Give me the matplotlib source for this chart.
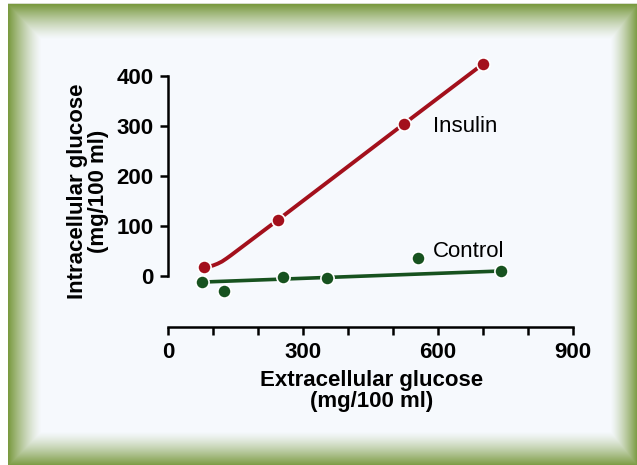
import numpy as np
import matplotlib.pyplot as plt
from matplotlib.ticker import MultipleLocator

# data
insulin_x = [80, 244, 524, 700]
insulin_y = [18, 112, 304, 424]
# smooth insulin curve
insulin_curve_x = [80, 90, 100, 110, 120, 130, 140, 244, 524, 700]
insulin_curve_y = [18, 19, 21, 24.5, 29, 35, 41.5, 112, 304, 424]

control_x = [76, 124, 256, 353, 556, 740]
control_y = [-12, -30, -2, -4, 36, 10]
# fitted control line ends
control_fit_x = [80, 740]
control_fit_y = [-12, 10]

x_ticks = [0, 300, 600, 900]
y_ticks = [0, 100, 200, 300, 400]

red = '#a3101c'
green = '#17521f'

W, H = 637, 465
plt.rcParams['font.family'] = ['Liberation Sans', 'DejaVu Sans']
fig = plt.figure(figsize=(W / 100, H / 100), dpi=100, facecolor='white')

# bevelled green frame behind the chart
yy, xx = np.mgrid[0:H, 0:W].astype(float)
left, top, right, bottom = 8, 5, W, H
t = np.minimum.reduce([(xx - left) / 33, (yy - top) / 35,
                       (right - xx) / 27, (bottom - yy) / 34])
t = np.clip(t, 0, 1)
outer = np.array([122, 154, 64]) / 255
inner = np.array([246, 249, 253]) / 255
w = (1 - t) ** 1.3
img = inner[None, None, :] * (1 - w[..., None]) + outer[None, None, :] * w[..., None]
img[(xx < left) | (yy < top)] = 1.0
img[(yy >= top - 1) & (yy < top) & (xx >= left)] = [0.85, 0.87, 0.8]
bg = fig.add_axes([0, 0, 1, 1], zorder=0)
bg.imshow(img, aspect='auto', interpolation='nearest')
bg.axis('off')

# main axes, placed in pixels
x0, x1 = 168, 573
ylo, yhi = -102, 430
y_top_px = 276 - yhi * 0.5
y_bot_px = 327
ax = fig.add_axes([x0 / W, (H - y_bot_px) / H, (x1 - x0) / W, (y_bot_px - y_top_px) / H], zorder=1)
ax.set_facecolor('none')
ax.set_xlim(0, 900)
ax.set_ylim(ylo, yhi)

ax.plot(control_fit_x, control_fit_y, color=green, lw=2.6, solid_capstyle='butt', zorder=2)
ax.plot(control_x, control_y, 'o', color=green, ms=9.5, mec='white', mew=1.2, clip_on=False, zorder=3)
ax.plot(insulin_curve_x, insulin_curve_y, color=red, lw=2.8, solid_capstyle='butt', zorder=2)
ax.plot(insulin_x, insulin_y, 'o', color=red, ms=9.5, mec='white', mew=1.2, clip_on=False, zorder=3)

for s in ['top', 'right']:
    ax.spines[s].set_visible(False)
ax.spines['left'].set_bounds(0, 400)
ax.spines['bottom'].set_bounds(0, 900)
for s in ['left', 'bottom']:
    ax.spines[s].set_linewidth(1.8)
    ax.spines[s].set_color('black')

ax.set_xticks(x_ticks)
ax.set_yticks(y_ticks)
ax.xaxis.set_minor_locator(MultipleLocator(100))
ax.tick_params(axis='both', which='both', direction='out', length=5.5, width=1.8,
               labelsize=16, pad=5)
for lab in ax.get_xticklabels() + ax.get_yticklabels():
    lab.set_fontweight('bold')

ax.text(589, 300, 'Insulin', fontsize=16, va='center', ha='left')
ax.text(589, 50, 'Control', fontsize=16, va='center', ha='left')

fig.text(88 / W, 1 - 191 / H, 'Intracellular glucose\n(mg/100 ml)', rotation=90,
         ha='center', va='center', fontsize=16, fontweight='bold', linespacing=1.0)
fig.text(372 / W, 1 - 391 / H, 'Extracellular glucose\n(mg/100 ml)',
         ha='center', va='center', fontsize=16, fontweight='bold', linespacing=1.0)

fig.savefig('out.png', dpi=100)
